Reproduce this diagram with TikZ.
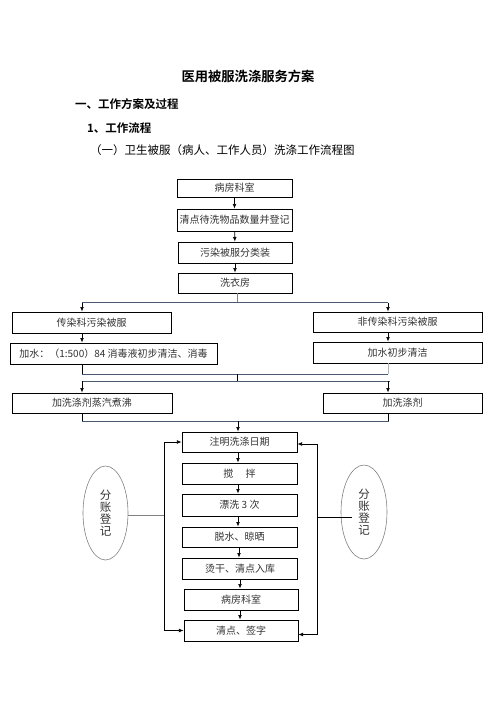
\documentclass[tikz,border=0pt]{standalone}
\usepackage{fontspec}
\setmainfont{Noto Sans CJK SC}[BoldFont={Noto Sans CJK SC Bold}]
\usepackage{xcolor}
\usetikzlibrary{arrows.meta, positioning, shapes.geometric}

\definecolor{busline}{RGB}{74,90,112}
\definecolor{boxtext}{RGB}{50,50,50}

\begin{document}
\begin{tikzpicture}[
    x=1pt, y=-1pt,
    font=\fontsize{10}{12}\selectfont,
    stage/.style={draw, line width=0.9pt, inner sep=0pt, align=center, text=boxtext, minimum height=21pt},
    ledger/.style={draw=gray, line width=0.6pt, ellipse, inner sep=0pt, minimum width=45pt, minimum height=94pt, align=center, text=boxtext, font=\fontsize{11.5}{11.8}\selectfont},
    heading/.style={anchor=west, inner sep=0pt, font=\fontsize{11.5}{13}\selectfont\bfseries},
    arrow/.style={-{Latex[length=1.6mm, width=1.3mm]}, line width=0.7pt},
    bus/.style={draw=busline, line width=1pt}
]
\useasboundingbox (0,0) rectangle (496,702);

% headings
\node[inner sep=0pt, font=\fontsize{13.3}{15}\selectfont\bfseries] (title) at (248,76) {医用被服洗涤服务方案};
\node[heading] (part1) at (75,104) {一、工作方案及过程};
\node[heading] (sec1) at (87,128) {1、工作流程};
\node[anchor=west, inner sep=0pt, font=\fontsize{11.5}{13}\selectfont] (caption) at (90,150) {（一）卫生被服（病人、工作人员）洗涤工作流程图};

% collection
\node[stage, minimum width=115pt, minimum height=18pt] (ward) at (234.5,188) {病房科室};
\node[stage, minimum width=115pt, minimum height=22pt] (count) at (234.5,220) {清点待洗物品数量并登记};
\node[stage, minimum width=114pt] (sort) at (235,252.5) {污染被服分类装};
\node[stage, minimum width=114pt, minimum height=20pt] (laundry) at (235,283) {洗衣房};

% two branches
\coordinate (lcol) at (82,0);
\coordinate (rcol) at (388,0);
\node[stage, minimum width=159pt] (infect) at (91.5,322.5) {传染科污染被服};
\node[stage, minimum width=207pt] (disinfect) at (113.5,353.5) {加水：（1:500）84 消毒液初步清洁、消毒};
\node[stage, minimum width=169pt, minimum height=20pt] (noninfect) at (397.5,322) {非传染科污染被服};
\node[stage, minimum width=169pt] (rinse) at (397.5,352.5) {加水初步清洁};
\node[stage, minimum width=160pt, minimum height=20pt] (boil) at (92,403) {加洗涤剂蒸汽煮沸};
\node[stage, minimum width=159pt, minimum height=20pt] (detergent) at (402.5,403) {加洗涤剂};

% washing
\node[stage, minimum width=115pt, minimum height=20pt] (date) at (239.5,442) {注明洗涤日期};
\node[stage, minimum width=115pt] (stir) at (239.5,473.5) {搅\quad\ 拌};
\node[stage, minimum width=115pt, minimum height=22pt] (rinse3) at (239.5,505) {漂洗 3 次};
\node[stage, minimum width=115pt, minimum height=20pt] (dry) at (239.5,537) {脱水、晾晒};
\node[stage, minimum width=114.5pt] (iron) at (240,568.5) {烫干、清点入库};
\node[stage, minimum width=114pt] (back) at (241,599.5) {病房科室};
\node[stage, minimum width=114pt] (sign) at (241,630.5) {清点、签字};

\node[ledger] (lbook) at (105.5,513) {分\\账\\登\\记};
\node[ledger, minimum width=46pt] (rbook) at (364,512) {分\\账\\登\\记};
\coordinate (lbus) at (164,515);
\coordinate (rbus) at (317,517);

\draw[arrow] (ward) -- (count);
\draw[arrow] (count) -- (sort);
\draw[arrow] (sort) -- (laundry);

\draw[line width=0.7pt, gray] (laundry.south -| 237,0) -- (237,302.5);
\draw[bus] (82,302.5) -- (388,302.5);
\draw[arrow] (lcol |- 302.5,302.5) -- (infect.north -| lcol);
\draw[arrow] (rcol |- 302.5,302.5) -- (noninfect.north -| rcol);
\draw[arrow] (infect.south -| lcol) -- (disinfect.north -| lcol);
\draw[arrow] (noninfect.south -| rcol) -- (rinse.north -| rcol);

\draw[line width=0.7pt] (disinfect.south -| lcol) -- (82,374);
\draw[line width=0.9pt, gray!60] (rinse.south -| rcol) -- (388,374);
\draw[bus] (82,374) -- (388,374);
\draw[line width=0.9pt] (237,374) -- (237,381);
\draw[bus] (82,381) -- (390,381);
\draw[arrow] (82,381) -- (boil.north -| lcol);
\draw[arrow] (rcol |- 381,381) -- (detergent.north -| rcol);

\draw[line width=0.7pt] (boil.south -| lcol) -- (82,421);
\draw[line width=0.7pt] (detergent.south -| rcol) -- (388,421);
\draw[bus] (82,421) -- (389,421);
\draw[arrow] (238,421) -- (date.north -| 238,0);

\draw[arrow] (date.south -| 238,0) -- (stir.north -| 238,0);
\draw[arrow] (stir.south -| 238,0) -- (rinse3.north -| 238,0);
\draw[arrow] (rinse3.south -| 238,0) -- (dry.north -| 238,0);
\draw[arrow] (dry.south -| 239,0) -- (iron.north -| 239,0);
\draw[arrow] (iron.south -| 240,0) -- (back.north -| 240,0);
\draw[arrow] (back.south -| 240,0) -- (sign.north -| 240,0);

\draw[line width=0.7pt, gray] (lbus -| lbook.east) -- (lbus);
\draw[arrow] (lbus) |- (date.west);
\draw[arrow] (lbus) |- (sign.west);
\draw[line width=0.7pt] ([xshift=11pt]rbus -| rbook.west) -- (rbus);
\draw[arrow] (rbus) |- ([yshift=-2pt]date.east);
\draw[arrow] (rbus) |- ([yshift=-4pt]sign.east);

\end{tikzpicture}
\end{document}
